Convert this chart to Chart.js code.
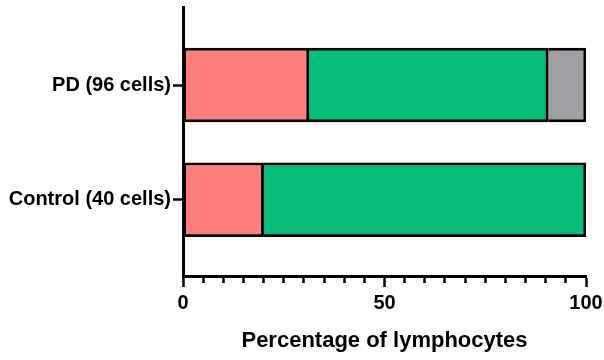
<!DOCTYPE html>
<html>
<head>
<meta charset="utf-8">
<script src="https://cdn.jsdelivr.net/npm/chart.js@4/dist/chart.umd.min.js"></script>
<style>
	html, body { margin: 0; padding: 0; background: #fff; }
	#wrap { width: 604px; height: 360px; }
</style>
</head>
<body>
<div id="wrap"><canvas id="chart" width="604" height="360"></canvas></div>
<script>
	// data (percent of cells per group)
	var categories = ['PD (96 cells)', 'Control (40 cells)'];
	var redValues = [31.25, 20];
	var greenValues = [59.375, 80];
	var greyValues = [9.375, null];
	var xTickLabels = [0, 50, 100];
	var xMinorStep = 5;
	var xTitle = 'Percentage of lymphocytes';
	var panelLetter = 'C';

	var FONT = "'Liberation Sans', Arial, Helvetica, sans-serif";
	var BW = 2.8;

	var toPoints = function (values) {
		var out = [];
		for (var i = 0; i < values.length; i++) {
			if (values[i] === null) continue;
			out.push({ x: values[i], y: i + 1 });
		}
		return out;
	};

	// only the first segment gets a left border so shared edges are not doubled
	var mkSet = function (label, values, color, first) {
		return {
			label: label,
			data: toPoints(values),
			backgroundColor: color,
			borderColor: '#000',
			borderWidth: { top: BW, right: BW, bottom: BW, left: first ? BW : 0 },
			borderSkipped: false,
			barThickness: 74
		};
	};

	// bit of the next panel's letter that pokes in at the bottom
	var letterPlugin = {
		id: 'letter',
		afterDraw: function (chart) {
			var ctx = chart.ctx;
			ctx.save();
			ctx.fillStyle = '#000';
			ctx.font = 'bold 28px ' + FONT;
			ctx.textBaseline = 'alphabetic';
			ctx.fillText(panelLetter, 25, 379);
			ctx.restore();
		}
	};

	new Chart(document.getElementById('chart'), {
		type: 'bar',
		data: {
			datasets: [
				mkSet('Red', redValues, '#FF7E7E', true),
				mkSet('Green', greenValues, '#06BE78'),
				mkSet('Grey', greyValues, '#A09FA4')
			]
		},
		options: {
			indexAxis: 'y',
			responsive: false,
			animation: false,
			devicePixelRatio: 1,
			layout: { padding: { top: 7, right: 18, left: 0, bottom: 0 } },
			plugins: {
				legend: { display: false },
				tooltip: { enabled: false }
			},
			scales: {
				x: {
					type: 'linear',
					stacked: true,
					min: 0,
					max: 100,
					afterBuildTicks: function (scale) {
						var t = [];
						for (var v = xTickLabels[0]; v <= xTickLabels[xTickLabels.length - 1]; v += xMinorStep) t.push({ value: v });
						scale.ticks = t;
					},
					afterFit: function (scale) {
						scale.height = 84;
						scale.paddingLeft = 0;
						scale.paddingRight = 0;
					},
					border: { display: true, color: '#000', width: 3 },
					grid: {
						drawOnChartArea: false,
						drawTicks: true,
						tickLength: 11,
						tickColor: '#000',
						tickWidth: 2.5,
						tickBorderDash: function (ctx) {
							return xTickLabels.indexOf(ctx.tick.value) >= 0 ? [] : [5, 40];
						}
					},
					ticks: {
						autoSkip: false,
						maxRotation: 0,
						padding: 4,
						color: '#000',
						font: { family: FONT, size: 20, weight: 'bold' },
						callback: function (v) { return xTickLabels.indexOf(v) >= 0 ? String(v) : ''; }
					},
					title: {
						display: true,
						text: xTitle,
						color: '#000',
						font: { family: FONT, size: 22, weight: 'bold' },
						padding: { top: 0, bottom: 6 }
					}
				},
				y: {
					type: 'linear',
					stacked: true,
					reverse: true,
					offset: false,
					min: 0.32,
					max: 2.665,
					afterBuildTicks: function (scale) {
						scale.ticks = categories.map(function (c, i) { return { value: i + 1 }; });
					},
					afterFit: function (scale) {
						scale.width = 183;
						scale.paddingTop = 0;
						scale.paddingBottom = 0;
					},
					border: { display: true, color: '#000', width: 3 },
					grid: {
						offset: false,
						drawOnChartArea: false,
						tickLength: 10,
						tickColor: '#000',
						tickWidth: 2.5
					},
					ticks: {
						autoSkip: false,
						padding: 2,
						color: '#000',
						font: { family: FONT, size: 20, weight: 'bold' },
						callback: function (v) { return categories[v - 1]; }
					}
				}
			}
		},
		plugins: [letterPlugin]
	});
</script>
</body>
</html>
